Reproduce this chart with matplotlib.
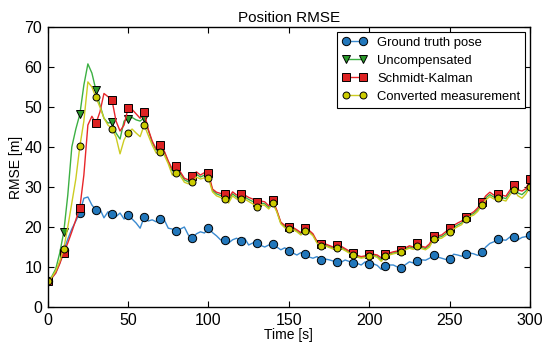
import numpy as np
import matplotlib
matplotlib.use("Agg")
import matplotlib.pyplot as plt

plt.rcParams['font.family'] = ['Liberation Sans', 'DejaVu Sans']

time_s = np.arange(0, 300.1, 2.5)

ground_truth = [
    6.6, 7.2, 8.5, 11.0, 14.2, 17.0, 19.5, 21.5, 23.6, 27.2,
    27.5, 25.5, 24.3, 24.5, 22.3, 23.8, 23.3, 22.6, 23.5, 22.0,
    23.1, 22.0, 21.0, 19.7, 22.5, 21.5, 21.8, 21.3, 22.1, 21.8,
    19.7, 19.5, 18.9, 19.5, 20.0, 18.0, 17.2, 18.3, 18.8, 18.5,
    19.8, 18.6, 17.8, 16.8, 16.75, 16.0, 16.8, 17.2, 16.5, 17.2,
    15.5, 16.0, 15.9, 15.4, 15.0, 15.5, 15.75, 15.0, 14.3, 14.8,
    14.0, 13.5, 13.0, 13.6, 13.25, 12.5, 12.2, 12.6, 11.75, 12.0,
    11.8, 11.5, 11.3, 11.2, 11.75, 11.4, 11.1, 10.9, 10.5, 11.3,
    10.75, 10.8, 10.4, 9.4, 10.25, 10.5, 10.5, 10.0, 9.7, 10.6,
    11.3, 11.0, 11.4, 11.8, 11.7, 12.2, 12.9, 12.5, 12.2, 11.9,
    12.0, 13.2, 13.0, 12.7, 13.25, 13.5, 13.3, 12.9, 13.7, 15.0,
    15.9, 16.3, 16.9, 16.8, 16.7, 17.5, 17.5, 16.8, 17.4, 17.6,
    18.1,
]

uncompensated = [
    6.6, 7.6, 9.5, 13.5, 18.75, 28.0, 40.0, 44.5, 48.2, 55.5,
    60.8, 58.5, 54.25, 50.5, 47.2, 46.0, 46.2, 43.5, 42.0, 46.5,
    47.0, 47.4, 46.8, 46.5, 47.3, 44.3, 41.2, 39.2, 39.8, 38.8,
    36.3, 34.0, 34.5, 33.4, 31.8, 31.3, 32.0, 33.2, 32.5, 33.0,
    32.9, 29.2, 28.3, 27.9, 27.6, 26.6, 28.3, 27.5, 27.6, 27.5,
    26.9, 26.4, 25.7, 26.0, 25.8, 24.9, 26.3, 24.0, 21.0, 20.1,
    19.7, 19.6, 19.0, 18.3, 19.3, 18.9, 18.0, 16.2, 15.5, 15.5,
    15.1, 14.7, 15.1, 14.9, 14.3, 13.7, 13.2, 12.7, 12.4, 12.6,
    13.0, 13.0, 12.7, 11.8, 12.9, 13.2, 13.5, 13.7, 14.0, 14.5,
    15.0, 14.7, 15.5, 14.9, 14.6, 15.4, 17.3, 17.4, 17.6, 18.3,
    19.2, 19.9, 20.5, 21.0, 22.3, 22.9, 23.4, 24.3, 25.9, 27.3,
    28.1, 27.5, 27.7, 27.4, 27.1, 28.6, 29.9, 28.5, 28.1, 29.0,
    31.0,
]

schmidt_kalman = [
    6.6, 7.2, 8.5, 10.8, 13.6, 16.0, 18.8, 21.8, 24.8, 33.0,
    45.5, 47.7, 45.9, 48.8, 53.4, 52.6, 51.75, 46.5, 44.0, 45.5,
    49.7, 49.4, 48.3, 47.2, 48.8, 44.5, 41.5, 39.5, 40.5, 39.0,
    36.5, 34.5, 35.2, 33.8, 32.2, 31.8, 32.75, 33.8, 33.0, 33.6,
    33.5, 29.5, 28.7, 28.4, 28.25, 27.2, 28.8, 28.0, 28.25, 28.0,
    27.4, 27.0, 26.3, 26.5, 26.3, 25.3, 26.75, 24.2, 21.2, 20.4,
    19.9, 19.9, 19.3, 18.6, 19.7, 19.2, 18.3, 16.4, 15.75, 15.8,
    15.4, 15.0, 15.5, 15.2, 14.6, 14.0, 13.4, 12.9, 12.6, 12.8,
    13.2, 13.2, 13.0, 12.3, 13.2, 13.5, 13.8, 14.0, 14.25, 14.8,
    15.3, 15.0, 15.9, 15.2, 14.9, 15.8, 17.75, 17.8, 18.0, 18.8,
    19.7, 20.4, 21.0, 21.5, 22.6, 23.2, 23.8, 24.8, 26.3, 27.8,
    28.7, 28.0, 28.2, 28.0, 27.7, 29.2, 30.5, 29.3, 29.0, 29.6,
    31.9,
]

converted = [
    6.6, 7.4, 9.0, 11.5, 14.6, 20.0, 26.0, 32.0, 40.2, 46.5,
    56.3, 55.0, 52.4, 50.0, 47.2, 45.5, 44.6, 42.5, 38.3, 41.8,
    43.6, 44.5, 43.5, 42.6, 45.5, 43.0, 40.5, 38.5, 38.8, 38.0,
    35.8, 33.0, 33.6, 32.8, 31.2, 30.8, 31.2, 32.5, 32.0, 32.3,
    32.2, 28.8, 27.8, 27.4, 27.0, 26.0, 27.8, 27.0, 26.9, 27.0,
    26.4, 25.8, 25.1, 25.6, 25.4, 24.5, 25.9, 23.8, 20.8, 19.8,
    19.5, 19.4, 18.8, 18.0, 19.0, 18.7, 17.8, 16.0, 15.25, 15.3,
    14.9, 14.5, 14.8, 14.6, 14.1, 13.5, 13.1, 12.5, 12.2, 12.4,
    12.75, 12.8, 12.4, 11.4, 12.7, 13.0, 13.3, 13.5, 13.7, 14.3,
    14.7, 14.4, 15.25, 14.6, 14.3, 15.0, 16.9, 17.0, 17.2, 17.9,
    18.8, 19.5, 20.1, 20.6, 22.1, 22.6, 23.0, 23.9, 25.5, 26.8,
    27.6, 27.0, 27.3, 26.8, 26.5, 28.0, 29.3, 27.8, 27.2, 28.3,
    30.1,
]

labels = ["Ground truth pose", "Uncompensated", "Schmidt-Kalman", "Converted measurement"]
series = [ground_truth, uncompensated, schmidt_kalman, converted]
line_colors = ["#3a8ad0", "#3cb043", "#e8262a", "#cccc22"]
face_colors = ["#2277bb", "#2a9a2a", "#dd2222", "#cccc00"]
markers = ["o", "v", "s", "o"]
msizes = [6, 6, 6, 5]

fig = plt.figure(figsize=(5.45, 3.43), dpi=100)
ax = fig.add_axes([0.0875, 0.105, 0.885, 0.816])

for y, lab, lc, fc, mk, ms in zip(series, labels, line_colors, face_colors, markers, msizes):
    ax.plot(time_s, y, color=lc, lw=1.0, marker=mk, markevery=4, markersize=ms,
            markerfacecolor=fc, markeredgecolor="black", markeredgewidth=0.7, label=lab)

ax.set_xlim(0, 300)
ax.set_ylim(0, 70)
ax.set_xticks([0, 50, 100, 150, 200, 250, 300])
ax.set_yticks([0, 10, 20, 30, 40, 50, 60, 70])
ax.tick_params(direction="in", top=True, right=True, length=4, width=0.8, labelsize=11.5, pad=4)
for s in ax.spines.values():
    s.set_linewidth(1.0)
ax.set_title("Position RMSE", fontsize=11, pad=4)
ax.set_xlabel("Time [s]", fontsize=10, labelpad=0)
ax.set_ylabel("RMSE [m]", fontsize=10, labelpad=1)

leg = ax.legend(loc="upper right", numpoints=2, fontsize=9.4, fancybox=False, framealpha=1,
                edgecolor="black", borderaxespad=0.35, handlelength=1.9, labelspacing=0.45,
                borderpad=0.4, handletextpad=0.8)
leg.get_frame().set_linewidth(0.8)

fig.savefig("out.png", dpi=100)
